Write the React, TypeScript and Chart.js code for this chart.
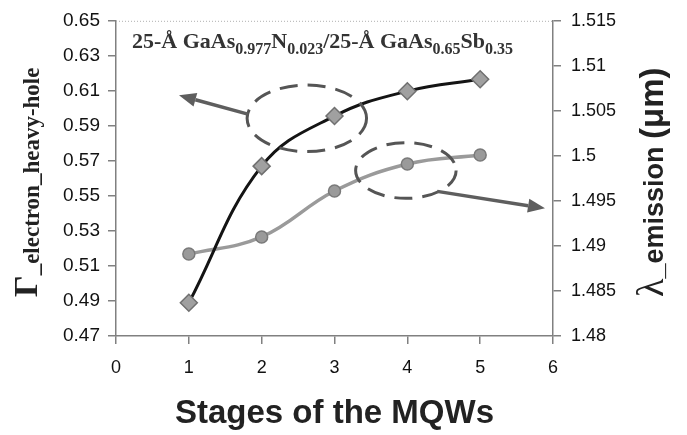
import React, { useEffect, useRef } from 'react';
import { Chart, registerables } from 'chart.js';

Chart.register(...registerables);

// ---- data ----
const stages = [1, 2, 3, 4, 5];
const gammaValues = [0.489, 0.567, 0.5956, 0.6098, 0.6166];
const lambdaValues = [1.4891, 1.491, 1.4961, 1.4991, 1.5001];
const xTicks = [0, 1, 2, 3, 4, 5, 6];
const leftTicks = [0.47, 0.49, 0.51, 0.53, 0.55, 0.57, 0.59, 0.61, 0.63, 0.65];
const leftLabels = ['0.47', '0.49', '0.51', '0.53', '0.55', '0.57', '0.59', '0.61', '0.63', '0.65'];
const rightTicks = [1.48, 1.485, 1.49, 1.495, 1.5, 1.505, 1.51, 1.515];
const rightLabels = ['1.48', '1.485', '1.49', '1.495', '1.5', '1.505', '1.51', '1.515'];

// annotations (in data units: x axis and left y axis)
const ellipses = [
  { cx: 2.62, cy: 0.5943, rx: 0.82, ry: 0.019 },
  { cx: 3.98, cy: 0.5645, rx: 0.69, ry: 0.0159 },
];
const arrows = [
  { x1: 1.81, y1: 0.5967, x2: 0.865, y2: 0.6075 },
  { x1: 4.41, y1: 0.5526, x2: 5.89, y2: 0.5429 },
];

const SANS = '"Liberation Sans", Arial, sans-serif';
const SERIF = '"Liberation Serif", "Times New Roman", serif';

const decorPlugin = {
  id: 'decor',
  afterDatasetsDraw(chart: any) {
    const { ctx, chartArea, scales } = chart;
    const xs = scales.x;
    const ys = scales.y;
    ctx.save();
    // dotted top border
    ctx.strokeStyle = '#b0b0b0';
    ctx.lineWidth = 1;
    ctx.setLineDash([1, 2]);
    ctx.beginPath();
    ctx.moveTo(chartArea.left, chartArea.top + 0.5);
    ctx.lineTo(chartArea.right, chartArea.top + 0.5);
    ctx.stroke();

    // dashed ellipses
    ctx.setLineDash([18, 10]);
    ctx.lineWidth = 3;
    ctx.strokeStyle = '#555555';
    for (const e of ellipses) {
      const cx = xs.getPixelForValue(e.cx);
      const cy = ys.getPixelForValue(e.cy);
      const rx = Math.abs(xs.getPixelForValue(e.cx + e.rx) - cx);
      const ry = Math.abs(ys.getPixelForValue(e.cy + e.ry) - cy);
      ctx.beginPath();
      ctx.ellipse(cx, cy, rx, ry, 0, 0, Math.PI * 2);
      ctx.stroke();
    }
    ctx.setLineDash([]);

    // arrows
    ctx.strokeStyle = '#5e5e5e';
    ctx.fillStyle = '#5e5e5e';
    ctx.lineWidth = 3.5;
    for (const a of arrows) {
      const x1 = xs.getPixelForValue(a.x1);
      const y1 = ys.getPixelForValue(a.y1);
      const x2 = xs.getPixelForValue(a.x2);
      const y2 = ys.getPixelForValue(a.y2);
      const ang = Math.atan2(y2 - y1, x2 - x1);
      const hl = 17;
      const hw = 7;
      const bx = x2 - Math.cos(ang) * hl;
      const by = y2 - Math.sin(ang) * hl;
      ctx.beginPath();
      ctx.moveTo(x1, y1);
      ctx.lineTo(bx, by);
      ctx.stroke();
      ctx.beginPath();
      ctx.moveTo(x2, y2);
      ctx.lineTo(bx - Math.sin(ang) * hw, by + Math.cos(ang) * hw);
      ctx.lineTo(bx + Math.sin(ang) * hw, by - Math.cos(ang) * hw);
      ctx.closePath();
      ctx.fill();
    }

    // in-plot title with subscripts
    const parts: [string, boolean][] = [
      ['25-Å GaAs', false],
      ['0.977', true],
      ['N', false],
      ['0.023', true],
      ['/25-Å GaAs', false],
      ['0.65', true],
      ['Sb', false],
      ['0.35', true],
    ];
    let tx = chartArea.left + 16;
    const tb = chartArea.top + 27;
    ctx.fillStyle = '#333333';
    ctx.textBaseline = 'alphabetic';
    ctx.textAlign = 'left';
    for (const [t, sub] of parts) {
      ctx.font = sub ? `bold 16px ${SERIF}` : `bold 22px ${SERIF}`;
      ctx.fillText(t, tx, sub ? tb + 6 : tb);
      tx += ctx.measureText(t).width;
    }
    ctx.restore();
  },
  afterDraw(chart: any) {
    const { ctx, chartArea } = chart;
    ctx.save();
    ctx.fillStyle = '#222222';
    ctx.textBaseline = 'alphabetic';
    // x title
    ctx.font = `bold 33px ${SANS}`;
    ctx.textAlign = 'center';
    ctx.fillText('Stages of the MQWs', (chartArea.left + chartArea.right) / 2, chartArea.bottom + 87);

    // left title
    ctx.save();
    ctx.translate(chartArea.left - 79, chartArea.bottom - 39);
    ctx.rotate(-Math.PI / 2);
    ctx.textAlign = 'left';
    ctx.font = `bold 34px ${SERIF}`;
    ctx.fillText('Γ', 0, 0);
    const gw = ctx.measureText('Γ').width;
    ctx.font = `bold 23px ${SERIF}`;
    ctx.fillText('_electron_heavy-hole', gw, 2);
    ctx.restore();

    // right title
    ctx.save();
    ctx.translate(chartArea.right + 110, chartArea.bottom - 39);
    ctx.rotate(-Math.PI / 2);
    ctx.textAlign = 'left';
    let px = 0;
    ctx.font = `38px ${SERIF}`;
    ctx.fillText('λ', px, 0);
    px += ctx.measureText('λ').width;
    ctx.font = `bold 27px ${SANS}`;
    ctx.fillText('_emission ', px, 0);
    px += ctx.measureText('_emission ').width;
    ctx.font = `bold 33px ${SANS}`;
    ctx.fillText('(μm)', px, 0);
    ctx.restore();
    ctx.restore();
  },
};

export default function App() {
  const ref = useRef<HTMLCanvasElement | null>(null);
  useEffect(() => {
    if (!ref.current) return;
    const axisColor = '#808080';
    const chart = new Chart(ref.current, {
      type: 'line',
      data: {
        datasets: [
          {
            label: 'Gamma',
            data: stages.map((s, i) => ({ x: s, y: gammaValues[i] })),
            yAxisID: 'y',
            borderColor: '#141414',
            borderWidth: 3,
            tension: 0.4,
            pointStyle: 'rectRot',
            pointRadius: 8.5,
            pointBackgroundColor: '#a0a0a0',
            pointBorderColor: '#707070',
            pointBorderWidth: 1.5,
            fill: false,
          },
          {
            label: 'Lambda',
            data: stages.map((s, i) => ({ x: s, y: lambdaValues[i] })),
            yAxisID: 'y1',
            borderColor: '#9a9a9a',
            borderWidth: 3.5,
            tension: 0.4,
            pointStyle: 'circle',
            pointRadius: 6,
            pointBackgroundColor: '#9a9a9a',
            pointBorderColor: '#7a7a7a',
            pointBorderWidth: 1.5,
            fill: false,
          },
        ],
      },
      options: {
        animation: false,
        responsive: false,
        layout: { padding: { top: 18, left: 0, right: 0, bottom: 0 } },
        plugins: { legend: { display: false }, tooltip: { enabled: false } },
        scales: {
          x: {
            type: 'linear',
            min: 0,
            max: 6,
            afterBuildTicks: (s: any) => {
              s.ticks = xTicks.map((v) => ({ value: v }));
            },
            afterFit: (s: any) => {
              s.height = 99;
            },
            grid: { drawOnChartArea: false, tickLength: 8, color: axisColor, lineWidth: 1.5 },
            border: { color: axisColor, width: 1.5 },
            ticks: {
              padding: 13,
              color: '#111',
              font: { family: SANS, size: 18 },
              callback: (v: any) => String(v),
            },
          },
          y: {
            type: 'linear',
            position: 'left',
            min: 0.47,
            max: 0.65,
            afterBuildTicks: (s: any) => {
              s.ticks = leftTicks.map((v) => ({ value: v }));
            },
            afterFit: (s: any) => {
              s.width = 116;
            },
            grid: { drawOnChartArea: false, tickLength: 8, color: axisColor, lineWidth: 1.5 },
            border: { color: axisColor, width: 1.5 },
            ticks: {
              padding: 8,
              color: '#111',
              font: { family: SANS, size: 19 },
              callback: (_v: any, i: number) => leftLabels[i],
            },
          },
          y1: {
            type: 'linear',
            position: 'right',
            min: 1.48,
            max: 1.515,
            afterBuildTicks: (s: any) => {
              s.ticks = rightTicks.map((v) => ({ value: v }));
            },
            afterFit: (s: any) => {
              s.width = 134;
            },
            grid: { drawOnChartArea: false, tickLength: 8, color: axisColor, lineWidth: 1.5 },
            border: { color: axisColor, width: 1.5 },
            ticks: {
              padding: 10,
              color: '#111',
              font: { family: SANS, size: 18 },
              callback: (_v: any, i: number) => rightLabels[i],
            },
          },
        },
      },
      plugins: [decorPlugin],
    } as any);
    return () => chart.destroy();
  }, []);
  return (
    <div style={{ position: 'absolute', left: 0, top: 0, width: 687, height: 435, background: '#fff' }}>
      <canvas ref={ref} width={687} height={435} />
    </div>
  );
}
